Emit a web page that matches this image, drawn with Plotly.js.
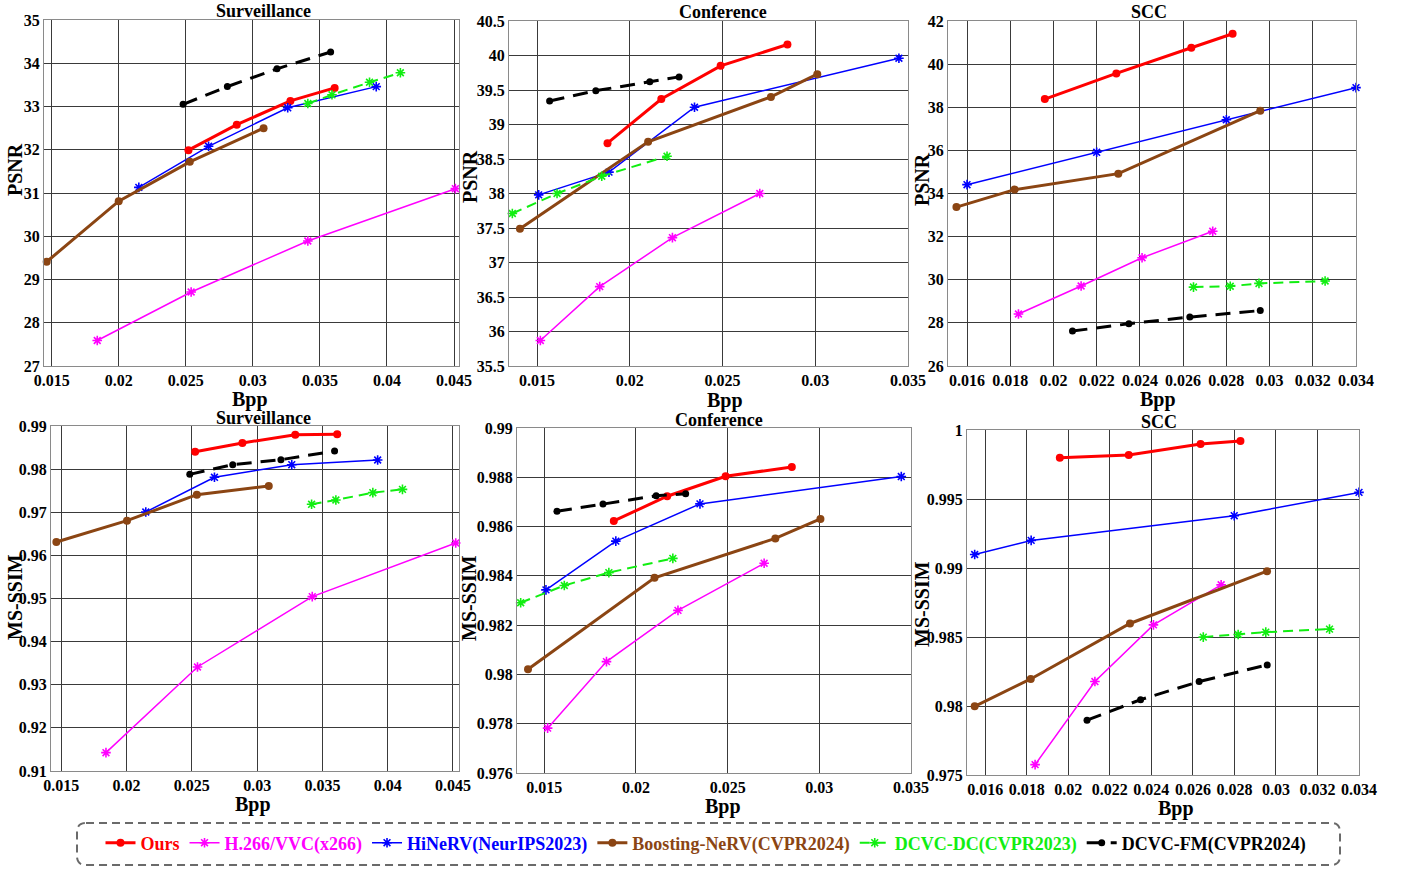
<!DOCTYPE html>
<html>
<head>
<meta charset="utf-8">
<script src="https://cdn.plot.ly/plotly-3.0.1.min.js"></script>
<style>html,body{margin:0;padding:0;background:#fff;}#chart{width:1403px;height:869px;}</style>
</head>
<body>
<div id="chart"></div>
<script>
// ---------------- DATA ----------------
const methodNames = ['Ours', 'H.266/VVC(x266)', 'HiNeRV(NeurIPS2023)', 'Boosting-NeRV(CVPR2024)', 'DCVC-DC(CVPR2023)', 'DCVC-FM(CVPR2024)'];
const panelTitles = ['Surveillance', 'Conference', 'SCC', 'Surveillance', 'Conference', 'SCC'];
const yAxisTitles = ['PSNR', 'PSNR', 'PSNR', 'MS-SSIM', 'MS-SSIM', 'MS-SSIM'];
const xAxisTitle = 'Bpp';

// Surveillance - PSNR
const survPsnrX_ours     = [0.0252, 0.0288, 0.0328, 0.0361];
const survPsnrY_ours     = [31.99, 32.58, 33.13, 33.43];
const survPsnrX_vvc      = [0.0184, 0.0254, 0.0341, 0.0451];
const survPsnrY_vvc      = [27.59, 28.71, 29.89, 31.10];
const survPsnrX_hinerv   = [0.0215, 0.0267, 0.0326, 0.0392];
const survPsnrY_hinerv   = [31.13, 32.08, 32.97, 33.46];
const survPsnrX_boost    = [0.01463, 0.0200, 0.0253, 0.0308];
const survPsnrY_boost    = [29.41, 30.81, 31.72, 32.50];
const survPsnrX_dcvcdc   = [0.0341, 0.0359, 0.0387, 0.0410];
const survPsnrY_dcvcdc   = [33.07, 33.27, 33.56, 33.78];
const survPsnrX_dcvcfm   = [0.0248, 0.0281, 0.0318, 0.0358];
const survPsnrY_dcvcfm   = [33.05, 33.46, 33.87, 34.26];

// Conference - PSNR
const confPsnrX_ours     = [0.0188, 0.0217, 0.0249, 0.0285];
const confPsnrY_ours     = [38.73, 39.37, 39.85, 40.16];
const confPsnrX_vvc      = [0.01518, 0.01838, 0.0223, 0.02701];
const confPsnrY_vvc      = [35.87, 36.65, 37.36, 38.00];
const confPsnrX_hinerv   = [0.01509, 0.01888, 0.02349, 0.03451];
const confPsnrY_hinerv   = [37.98, 38.31, 39.25, 39.96];
const confPsnrX_boost    = [0.01408, 0.02099, 0.02761, 0.03011];
const confPsnrY_boost    = [37.49, 38.75, 39.40, 39.73];
const confPsnrX_dcvcdc   = [0.01367, 0.01608, 0.01849, 0.02201];
const confPsnrY_dcvcdc   = [37.71, 38.00, 38.25, 38.54];
const confPsnrX_dcvcfm   = [0.01568, 0.01817, 0.02108, 0.02266];
const confPsnrY_dcvcfm   = [39.34, 39.49, 39.62, 39.69];

// SCC - PSNR
const sccPsnrX_ours      = [0.0196, 0.02291, 0.02638, 0.02829];
const sccPsnrY_ours      = [38.38, 39.57, 40.76, 41.41];
const sccPsnrX_vvc       = [0.01838, 0.02128, 0.0241, 0.02737];
const sccPsnrY_vvc       = [28.41, 29.71, 31.02, 32.25];
const sccPsnrX_hinerv    = [0.016, 0.022, 0.028, 0.034];
const sccPsnrY_hinerv    = [34.41, 35.91, 37.42, 38.91];
const sccPsnrX_boost     = [0.01551, 0.0182, 0.0230, 0.02957];
const sccPsnrY_boost     = [33.37, 34.18, 34.92, 37.84];
const sccPsnrX_dcvcdc    = [0.02648, 0.02818, 0.02951, 0.03257];
const sccPsnrY_dcvcdc    = [29.66, 29.70, 29.83, 29.94];
const sccPsnrX_dcvcfm    = [0.02088, 0.02349, 0.02631, 0.02957];
const sccPsnrY_dcvcfm    = [27.62, 27.96, 28.27, 28.57];

// Surveillance - MS-SSIM
const survSsimX_ours     = [0.02525, 0.02887, 0.03292, 0.03613];
const survSsimY_ours     = [0.98405, 0.98606, 0.98799, 0.98807];
const survSsimX_vvc      = [0.01842, 0.02543, 0.03422, 0.04521];
const survSsimY_vvc      = [0.91425, 0.93412, 0.95043, 0.96287];
const survSsimX_hinerv   = [0.02147, 0.02673, 0.03265, 0.03923];
const survSsimY_hinerv   = [0.97006, 0.97810, 0.98103, 0.98212];
const survSsimX_boost    = [0.01462, 0.02003, 0.02538, 0.03089];
const survSsimY_boost    = [0.96310, 0.96805, 0.97408, 0.97609];
const survSsimX_dcvcdc   = [0.03417, 0.03603, 0.03886, 0.04113];
const survSsimY_dcvcdc   = [0.97184, 0.97284, 0.97454, 0.97531];
const survSsimX_dcvcfm   = [0.02484, 0.02813, 0.03182, 0.03593];
const survSsimY_dcvcfm   = [0.97879, 0.98103, 0.98219, 0.98420];

// Conference - MS-SSIM
const confSsimX_ours     = [0.01879, 0.0217, 0.02489, 0.0285];
const confSsimY_ours     = [0.98623, 0.98723, 0.98804, 0.98842];
const confSsimX_vvc      = [0.01518, 0.01839, 0.02229, 0.02699];
const confSsimY_vvc      = [0.97782, 0.98052, 0.98260, 0.98451];
const confSsimX_hinerv   = [0.01509, 0.0189, 0.02349, 0.03447];
const confSsimY_hinerv   = [0.98343, 0.98541, 0.98692, 0.98803];
const confSsimX_boost    = [0.01411, 0.02101, 0.0276, 0.03006];
const confSsimY_boost    = [0.98021, 0.98392, 0.98552, 0.98631];
const confSsimX_dcvcdc   = [0.01371, 0.01609, 0.01852, 0.02201];
const confSsimY_dcvcdc   = [0.98291, 0.98361, 0.98413, 0.98471];
const confSsimX_dcvcfm   = [0.01569, 0.0182, 0.0211, 0.02271];
const confSsimY_dcvcfm   = [0.98662, 0.98692, 0.98725, 0.98733];

// SCC - MS-SSIM
const sccSsimX_ours      = [0.01959, 0.02291, 0.02637, 0.02829];
const sccSsimY_ours      = [0.99799, 0.99819, 0.99898, 0.99920];
const sccSsimX_vvc       = [0.0184, 0.02128, 0.0241, 0.02736];
const sccSsimY_vvc       = [0.97575, 0.98177, 0.98588, 0.98878];
const sccSsimX_hinerv    = [0.01549, 0.01821, 0.02799, 0.034];
const sccSsimY_hinerv    = [0.99098, 0.99200, 0.99379, 0.99548];
const sccSsimX_boost     = [0.01549, 0.01819, 0.02297, 0.02957];
const sccSsimY_boost     = [0.97998, 0.98196, 0.98598, 0.98977];
const sccSsimX_dcvcdc    = [0.0265, 0.02818, 0.02951, 0.03258];
const sccSsimY_dcvcdc    = [0.98499, 0.98518, 0.98535, 0.98557];
const sccSsimX_dcvcfm    = [0.0209, 0.02348, 0.0263, 0.02958];
const sccSsimY_dcvcfm    = [0.97897, 0.98046, 0.98177, 0.98298];

// Tick values / labels
const xTicks5 = [0.015, 0.02, 0.025, 0.03, 0.035, 0.04, 0.045];
const xTickText5 = ['0.015', '0.02', '0.025', '0.03', '0.035', '0.04', '0.045'];
const xTicks2 = [0.016, 0.018, 0.02, 0.022, 0.024, 0.026, 0.028, 0.03, 0.032, 0.034];
const xTickText2 = ['0.016', '0.018', '0.02', '0.022', '0.024', '0.026', '0.028', '0.03', '0.032', '0.034'];
const yTicksSurvPsnr = [27, 28, 29, 30, 31, 32, 33, 34, 35];
const yTickTextSurvPsnr = ['27', '28', '29', '30', '31', '32', '33', '34', '35'];
const yTicksConfPsnr = [35.5, 36, 36.5, 37, 37.5, 38, 38.5, 39, 39.5, 40, 40.5];
const yTickTextConfPsnr = ['35.5', '36', '36.5', '37', '37.5', '38', '38.5', '39', '39.5', '40', '40.5'];
const yTicksSccPsnr = [26, 28, 30, 32, 34, 36, 38, 40, 42];
const yTickTextSccPsnr = ['26', '28', '30', '32', '34', '36', '38', '40', '42'];
const yTicksSurvSsim = [0.91, 0.92, 0.93, 0.94, 0.95, 0.96, 0.97, 0.98, 0.99];
const yTickTextSurvSsim = ['0.91', '0.92', '0.93', '0.94', '0.95', '0.96', '0.97', '0.98', '0.99'];
const yTicksConfSsim = [0.976, 0.978, 0.98, 0.982, 0.984, 0.986, 0.988, 0.99];
const yTickTextConfSsim = ['0.976', '0.978', '0.98', '0.982', '0.984', '0.986', '0.988', '0.99'];
const yTicksSccSsim = [0.975, 0.98, 0.985, 0.99, 0.995, 1];
const yTickTextSccSsim = ['0.975', '0.98', '0.985', '0.99', '0.995', '1'];

// ---------------- STYLE / LAYOUT ----------------
const W = 1403, H = 869;
const px = v => v / W;
const py = v => 1 - v / H;
const FONT = '"Liberation Serif", "Times New Roman", serif';
const bold = arr => arr.map(t => '<b>' + t + '</b>');

const styles = [
  {color: '#ff0000', width: 3,   dash: 'solid',     symbol: 'circle',        size: 8},
  {color: '#ff00ff', width: 1.5, dash: 'solid',     symbol: 'asterisk-open', size: 8},
  {color: '#0000ff', width: 1.5, dash: 'solid',     symbol: 'asterisk-open', size: 8},
  {color: '#8b4513', width: 3,   dash: 'solid',     symbol: 'circle',        size: 8},
  {color: '#11ee11', width: 2,   dash: '10px,6px',  symbol: 'asterisk-open', size: 8},
  {color: '#000000', width: 3,   dash: '15px,9px',  symbol: 'circle',        size: 7}
];

const panelData = [
  [[survPsnrX_ours, survPsnrY_ours], [survPsnrX_vvc, survPsnrY_vvc], [survPsnrX_hinerv, survPsnrY_hinerv], [survPsnrX_boost, survPsnrY_boost], [survPsnrX_dcvcdc, survPsnrY_dcvcdc], [survPsnrX_dcvcfm, survPsnrY_dcvcfm]],
  [[confPsnrX_ours, confPsnrY_ours], [confPsnrX_vvc, confPsnrY_vvc], [confPsnrX_hinerv, confPsnrY_hinerv], [confPsnrX_boost, confPsnrY_boost], [confPsnrX_dcvcdc, confPsnrY_dcvcdc], [confPsnrX_dcvcfm, confPsnrY_dcvcfm]],
  [[sccPsnrX_ours, sccPsnrY_ours], [sccPsnrX_vvc, sccPsnrY_vvc], [sccPsnrX_hinerv, sccPsnrY_hinerv], [sccPsnrX_boost, sccPsnrY_boost], [sccPsnrX_dcvcdc, sccPsnrY_dcvcdc], [sccPsnrX_dcvcfm, sccPsnrY_dcvcfm]],
  [[survSsimX_ours, survSsimY_ours], [survSsimX_vvc, survSsimY_vvc], [survSsimX_hinerv, survSsimY_hinerv], [survSsimX_boost, survSsimY_boost], [survSsimX_dcvcdc, survSsimY_dcvcdc], [survSsimX_dcvcfm, survSsimY_dcvcfm]],
  [[confSsimX_ours, confSsimY_ours], [confSsimX_vvc, confSsimY_vvc], [confSsimX_hinerv, confSsimY_hinerv], [confSsimX_boost, confSsimY_boost], [confSsimX_dcvcdc, confSsimY_dcvcdc], [confSsimX_dcvcfm, confSsimY_dcvcfm]],
  [[sccSsimX_ours, sccSsimY_ours], [sccSsimX_vvc, sccSsimY_vvc], [sccSsimX_hinerv, sccSsimY_hinerv], [sccSsimX_boost, sccSsimY_boost], [sccSsimX_dcvcdc, sccSsimY_dcvcdc], [sccSsimX_dcvcfm, sccSsimY_dcvcfm]]
];

// pixel boxes [left, right, top, bottom], axis ranges, ticks, label positions
const panels = [
  {box: [44, 459, 20, 366],  xr: [0.01443, 0.04537], yr: [27, 35],        xt: [xTicks5, xTickText5], yt: [yTicksSurvPsnr, yTickTextSurvPsnr], title: [263, 11],  ytitle: [15, 170],  xtitle: [250, 399]},
  {box: [509, 908, 21, 366], xr: [0.01349, 0.035],   yr: [35.5, 40.5],    xt: [xTicks5, xTickText5], yt: [yTicksConfPsnr, yTickTextConfPsnr], title: [723, 12],  ytitle: [470, 177], xtitle: [725, 400]},
  {box: [948, 1356, 21, 366],xr: [0.01512, 0.034],   yr: [26, 42],        xt: [xTicks2, xTickText2], yt: [yTicksSccPsnr, yTickTextSccPsnr],   title: [1149, 12], ytitle: [922, 180], xtitle: [1158, 399]},
  {box: [51, 459, 426, 771], xr: [0.01421, 0.04546], yr: [0.91, 0.99],    xt: [xTicks5, xTickText5], yt: [yTicksSurvSsim, yTickTextSurvSsim], title: [263, 418], ytitle: [15, 597],  xtitle: [253, 804]},
  {box: [517, 911, 428, 773],xr: [0.01351, 0.035],   yr: [0.976, 0.99],   xt: [xTicks5, xTickText5], yt: [yTicksConfSsim, yTickTextConfSsim], title: [719, 420], ytitle: [469, 598], xtitle: [723, 806]},
  {box: [967, 1359, 430, 775],xr: [0.01512, 0.034],  yr: [0.975, 1],      xt: [xTicks2, xTickText2], yt: [yTicksSccSsim, yTickTextSccSsim],   title: [1159, 422],ytitle: [922, 604], xtitle: [1176, 808]}
];

const data = [];
const layout = {
  width: W, height: H,
  margin: {l: 0, r: 0, t: 0, b: 0},
  paper_bgcolor: '#ffffff',
  plot_bgcolor: '#ffffff',
  font: {family: FONT, color: '#000', size: 16, weight: 'bold'},
  showlegend: true,
  legend: {
    orientation: 'h', x: px(706), xanchor: 'center', y: py(843), yanchor: 'middle',
    font: {family: FONT, size: 18, weight: 'bold', color: '#000'},
    bgcolor: 'rgba(0,0,0,0)', borderwidth: 0, itemwidth: 30, tracegroupgap: 0
  },
  annotations: [],
  shapes: []
};

panels.forEach((p, i) => {
  const n = i === 0 ? '' : String(i + 1);
  const xa = 'xaxis' + n, ya = 'yaxis' + n;
  const axisCommon = {
    showgrid: true, gridcolor: '#3a3a3a', gridwidth: 1,
    showline: true, linecolor: '#8a8a8a', linewidth: 1, mirror: true,
    zeroline: false, ticks: '', automargin: false, fixedrange: true,
    tickfont: {family: FONT, size: 16, weight: 'bold', color: '#000'}
  };
  layout[xa] = Object.assign({}, axisCommon, {
    domain: [px(p.box[0]), px(p.box[1])], range: p.xr, anchor: 'y' + n,
    tickmode: 'array', tickvals: p.xt[0], ticktext: bold(p.xt[1])
  });
  layout[ya] = Object.assign({}, axisCommon, {
    domain: [py(p.box[3]), py(p.box[2])], range: p.yr, anchor: 'x' + n,
    tickmode: 'array', tickvals: p.yt[0], ticktext: bold(p.yt[1])
  });
  layout.annotations.push(
    {text: '<b>' + panelTitles[i] + '</b>', xref: 'paper', yref: 'paper', x: px(p.title[0]), y: py(p.title[1]), xanchor: 'center', yanchor: 'middle', showarrow: false, font: {family: FONT, size: 18, weight: 'bold', color: '#000'}},
    {text: '<b>' + yAxisTitles[i] + '</b>', xref: 'paper', yref: 'paper', x: px(p.ytitle[0]), y: py(p.ytitle[1]), xanchor: 'center', yanchor: 'middle', textangle: -90, showarrow: false, font: {family: FONT, size: 20, weight: 'bold', color: '#000'}},
    {text: '<b>' + xAxisTitle + '</b>', xref: 'paper', yref: 'paper', x: px(p.xtitle[0]), y: py(p.xtitle[1]), xanchor: 'center', yanchor: 'middle', showarrow: false, font: {family: FONT, size: 20, weight: 'bold', color: '#000'}}
  );
  panelData[i].forEach((xy, m) => {
    const s = styles[m];
    data.push({
      type: 'scatter', mode: 'lines+markers',
      x: xy[0], y: xy[1],
      xaxis: 'x' + n, yaxis: 'y' + n,
      name: '<b><span style="color:' + s.color + '">' + methodNames[m] + '</span></b>',
      legendgroup: 'g' + m, showlegend: i === 0,
      line: {color: s.color, width: s.width, dash: s.dash},
      marker: s.symbol === 'circle'
        ? {symbol: 'circle', size: s.size, color: s.color}
        : {symbol: s.symbol, size: s.size, color: s.color, line: {color: s.color, width: 1.6}},
      cliponaxis: false, hoverinfo: 'x+y'
    });
  });
});

// dashed rounded legend frame
(function () {
  const L = 77, R = 1340, T = 823, B = 865, r = 9;
  const X = v => px(v), Y = v => py(v);
  const path = 'M ' + X(L + r) + ',' + Y(T) +
    ' L ' + X(R - r) + ',' + Y(T) +
    ' Q ' + X(R) + ',' + Y(T) + ' ' + X(R) + ',' + Y(T + r) +
    ' L ' + X(R) + ',' + Y(B - r) +
    ' Q ' + X(R) + ',' + Y(B) + ' ' + X(R - r) + ',' + Y(B) +
    ' L ' + X(L + r) + ',' + Y(B) +
    ' Q ' + X(L) + ',' + Y(B) + ' ' + X(L) + ',' + Y(B - r) +
    ' L ' + X(L) + ',' + Y(T + r) +
    ' Q ' + X(L) + ',' + Y(T) + ' ' + X(L + r) + ',' + Y(T) + ' Z';
  layout.shapes.push({type: 'path', xref: 'paper', yref: 'paper', path: path,
    line: {color: '#6a6a6a', width: 2, dash: '8px,5px'}, fillcolor: 'rgba(0,0,0,0)'});
})();

Plotly.newPlot('chart', data, layout, {displayModeBar: false, staticPlot: true});
</script>
</body>
</html>
